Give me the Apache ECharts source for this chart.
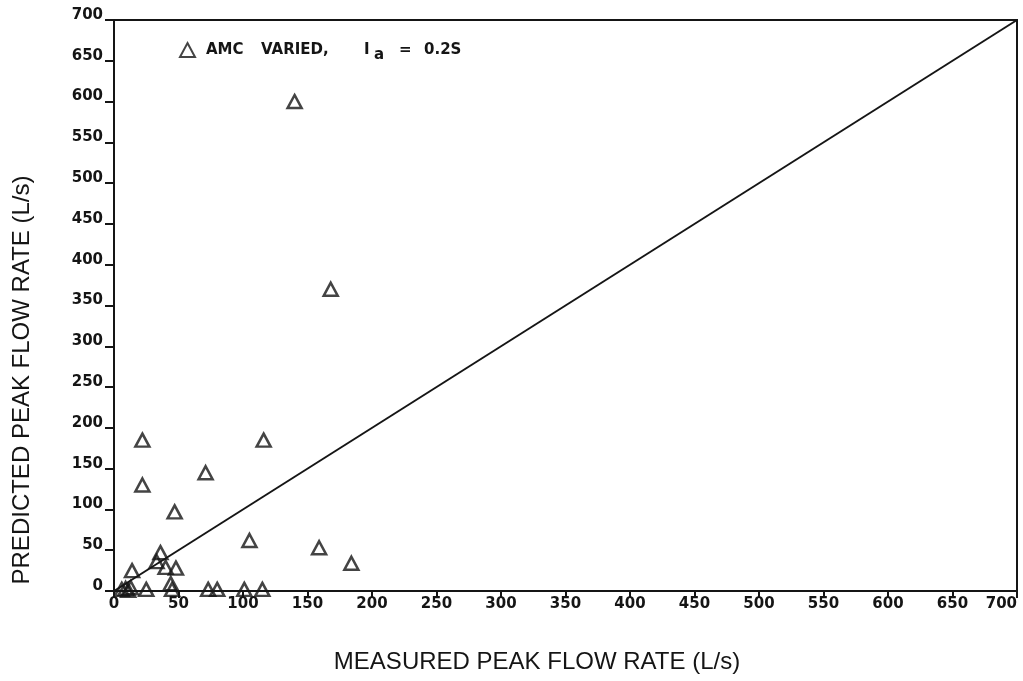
<!DOCTYPE html>
<html><head><meta charset="utf-8">
<script src="https://cdn.jsdelivr.net/npm/echarts@6/dist/echarts.min.js"></script>
<style>html,body{margin:0;padding:0;background:#fff}#c{width:1023px;height:681px}</style>
</head><body><div id="c"></div>
<script>
const measured  = [140,168,22,116,22,71,47,105,159,184,14,36,33,40,48,25,44,45,73,80,101,115,6,9,11,13];
const predicted = [600,370,185,185,130,145,97,62,53,34,25,47,36,29,28,2,9,2,2,2,2,2,2,3,1,4];
const lineX = [0,700];
const lineY = [0,700];
const xTitle = 'MEASURED PEAK FLOW RATE (L/s)';
const yTitle = 'PREDICTED PEAK FLOW RATE (L/s)';

const ink = '#151515';
const tickFont = {color: ink, fontFamily: 'DejaVu Sans', fontWeight: 'bold', fontSize: 15};
const lg = {fontFamily: 'DejaVu Sans', fontWeight: 'bold', fontSize: 15, color: ink};
const chart = echarts.init(document.getElementById('c'));
chart.setOption({
  animation: false,
  backgroundColor: '#fff',
  grid: {left: 114, right: 6, top: 20, bottom: 90, show: true, borderColor: ink, borderWidth: 2, outerBoundsMode: 'none', containLabel: false},
  legend: {
    left: 174, top: 37, itemWidth: 15, itemHeight: 14, itemGap: 16,
    data: ['obs'],
    formatter: () => '{p|}{a|AMC}{b|VARIED,}{c|I}{s|a}{d|=}{e|0.2S}',
    textStyle: {rich: {
      p: Object.assign({width: 6}, lg),
      a: Object.assign({width: 55}, lg),
      b: Object.assign({width: 103}, lg),
      c: Object.assign({width: 10}, lg),
      s: Object.assign({width: 25, padding: [10,0,0,0]}, lg),
      d: Object.assign({width: 25}, lg),
      e: Object.assign({width: 40}, lg)
    }}
  },
  xAxis: {
    type: 'value', min: 0, max: 700, interval: 50,
    axisLine: {lineStyle: {color: ink, width: 2}},
    axisTick: {length: 7, lineStyle: {color: ink, width: 2}},
    axisLabel: Object.assign({margin: 6, alignMaxLabel: 'right'}, tickFont),
    splitLine: {show: false}
  },
  yAxis: {
    type: 'value', min: 0, max: 700, interval: 50,
    axisLine: {lineStyle: {color: ink, width: 2}},
    axisTick: {length: 9, lineStyle: {color: ink, width: 2}},
    axisLabel: Object.assign({margin: 11, verticalAlign: 'bottom', lineHeight: 14, padding: [0,0,-2,0]}, tickFont),
    splitLine: {show: false}
  },
  graphic: [
    {type: 'text', x: 537, y: 662, style: {text: xTitle, fontFamily: 'Liberation Sans', fontSize: 24, fill: ink, align: 'center', verticalAlign: 'middle'}},
    {type: 'text', rotation: Math.PI/2, x: 22, y: 380, style: {text: yTitle, fontFamily: 'Liberation Sans', fontSize: 24, fill: ink, align: 'center', verticalAlign: 'middle'}}
  ],
  series: [
    {
      type: 'line', data: lineX.map((v,i)=>[v,lineY[i]]), symbol: 'none', silent: true,
      lineStyle: {color: ink, width: 2}
    },
    {
      name: 'obs', type: 'scatter', symbol: 'triangle', symbolSize: [14,13],
      data: measured.map((v,i)=>[v,predicted[i]]),
      itemStyle: {color: 'rgba(255,255,255,0)', borderColor: ink, borderWidth: 2.5}
    }
  ]
});
</script></body></html>
